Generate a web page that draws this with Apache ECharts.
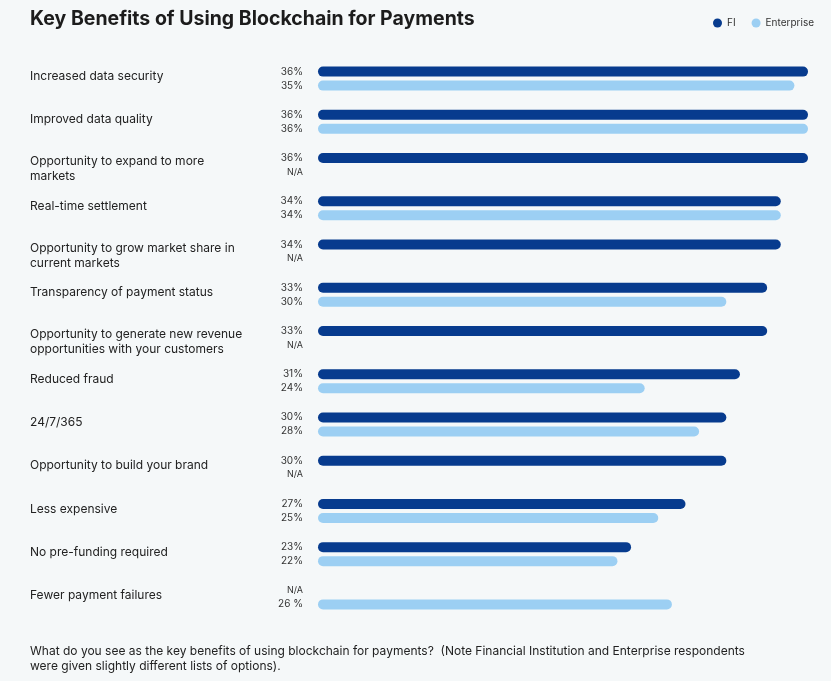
<!DOCTYPE html>
<html>
<head>
<meta charset="utf-8">
<script src="https://cdn.jsdelivr.net/npm/echarts@6/dist/echarts.min.js"></script>
<style>
  html, body { margin: 0; padding: 0; background: #f5f8f9; }
  #chart { width: 831px; height: 681px; }
</style>
</head>
<body>
<div id="chart"></div>
<script>
// categories (top to bottom)
const categories = [
  'Increased data security',
  'Improved data quality',
  'Opportunity to expand to more\nmarkets',
  'Real-time settlement',
  'Opportunity to grow market share in\ncurrent markets',
  'Transparency of payment status',
  'Opportunity to generate new revenue\nopportunities with your customers',
  'Reduced fraud',
  '24/7/365',
  'Opportunity to build your brand',
  'Less expensive',
  'No pre-funding required',
  'Fewer payment failures'
]
// null = N/A
const fiValues = [36, 36, 36, 34, 34, 33, 33, 31, 30, 30, 27, 23, null]
const entValues = [35, 36, null, 34, null, 30, null, 24, 28, null, 25, 22, 26]
const fiLabels = ['36%', '36%', '36%', '34%', '34%', '33%', '33%', '31%', '30%', '30%', '27%', '23%', 'N/A']
const entLabels = ['35%', '36%', 'N/A', '34%', 'N/A', '30%', 'N/A', '24%', '28%', 'N/A', '25%', '22%', '26 %']

function buildData (values, labels) {
  return values.map(function (v, i) {
    return {
      value: v === null ? 0 : v,
      label: {
        formatter: labels[i],
        fontSize: v === null ? 9 : 10
      }
    }
  })
}

let myChart = echarts.init(document.getElementById('chart'))
myChart.setOption({
  backgroundColor: '#f5f8f9',
  color: ['#073b8e', '#9ccff3'],
  title: {
    text: 'Key Benefits of Using Blockchain for Payments',
    left: 25,
    top: 4,
    textStyle: {
      fontFamily: 'Inter',
      fontSize: 19.5,
      fontWeight: 700,
      color: '#1c1c1c'
    }
  },
  graphic: [{
    type: 'text',
    left: 30,
    top: 644,
    style: {
      text: 'What do you see as the key benefits of using blockchain for payments?  (Note Financial Institution and Enterprise respondents\nwere given slightly different lists of options).',
      fontFamily: 'Inter',
      fontSize: 12,
      lineHeight: 15,
      fill: '#222'
    }
  }],
  legend: {
    data: ['FI', 'Enterprise'],
    right: 12,
    top: 13,
    icon: 'circle',
    itemWidth: 9,
    itemHeight: 9,
    itemGap: 16,
    textStyle: {
      fontFamily: 'Inter',
      fontSize: 10,
      color: '#333'
    }
  },
  grid: {
    left: 318,
    right: 23,
    top: 57,
    bottom: 62,
    containLabel: false
  },
  xAxis: {
    type: 'value',
    min: 0,
    max: 36,
    show: false
  },
  yAxis: {
    type: 'category',
    inverse: true,
    data: categories,
    axisLine: { show: false },
    axisTick: { show: false },
    axisLabel: {
      align: 'left',
      margin: 288,
      fontFamily: 'Inter',
      fontSize: 12,
      lineHeight: 15,
      color: '#222',
      // nudge labels: one-line ones up a bit, two-line ones down a bit
      formatter: function (value) {
        return value.indexOf('\n') > -1 ? '{s| }\n' + value : value + '\n{t| }'
      },
      rich: {
        s: { lineHeight: 8, fontSize: 6 },
        t: { lineHeight: 4, fontSize: 4 }
      }
    }
  },
  series: [
    {
      name: 'FI',
      type: 'bar',
      barWidth: 10,
      barGap: '40%',
      itemStyle: { borderRadius: 5 },
      label: {
        show: true,
        position: 'left',
        distance: 15,
        fontFamily: 'Inter',
        color: '#333'
      },
      data: buildData(fiValues, fiLabels)
    },
    {
      name: 'Enterprise',
      type: 'bar',
      barWidth: 10,
      itemStyle: { borderRadius: 5 },
      label: {
        show: true,
        position: 'left',
        distance: 15,
        fontFamily: 'Inter',
        color: '#333'
      },
      data: buildData(entValues, entLabels)
    }
  ]
})
</script>
</body>
</html>
